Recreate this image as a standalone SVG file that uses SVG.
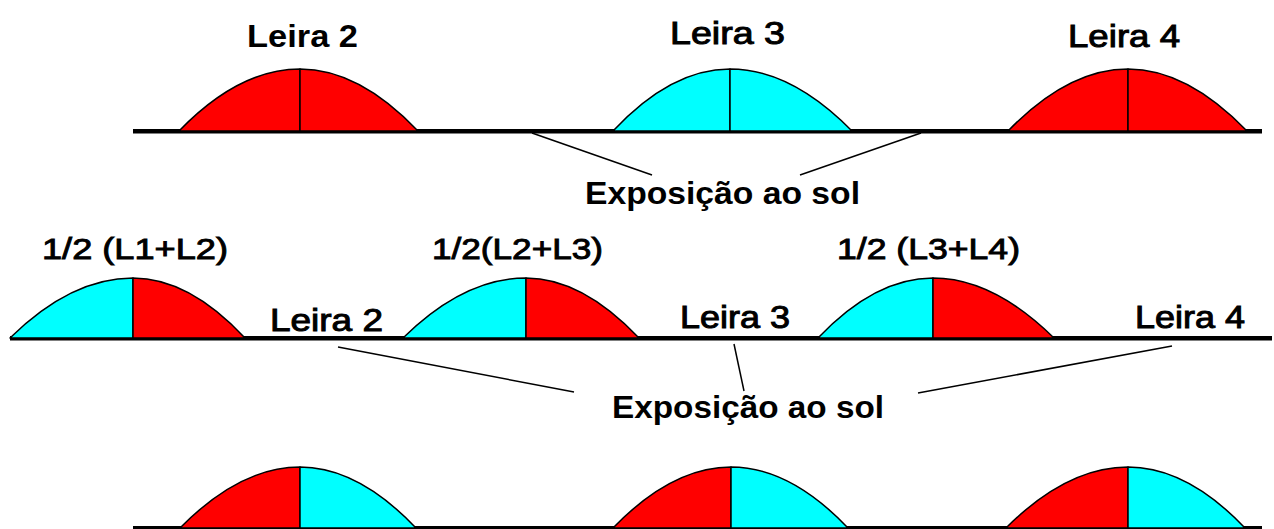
<svg xmlns="http://www.w3.org/2000/svg" width="1274" height="529" viewBox="0 0 1274 529">
<style>
.red{fill:#ff0000;stroke:#000;stroke-width:1.5;stroke-linejoin:round}
.cyan{fill:#00ffff;stroke:#000;stroke-width:1.5;stroke-linejoin:round}
.base{fill:#000}
.con{stroke:#000;stroke-width:1.5;fill:none}
text{font-family:"Liberation Sans",Arial,sans-serif;fill:#000}
.b{font-weight:bold;font-size:31px}
.r{font-size:32px;stroke:#000;stroke-width:1}
.s{font-size:29px;stroke:#000;stroke-width:0.9}
</style>
<rect width="1274" height="529" fill="#fff"/>
<g id="baselines">
<rect class="base" x="133" y="129" width="1129" height="4.5"/>
<rect class="base" x="10" y="336" width="1262" height="4.5"/>
<rect class="base" x="133" y="526" width="1129" height="3"/>
</g>
<g id="row1-leira2">
<path class="red" d="M179,131 Q239,69 300,69 L300,131 Z"/>
<path class="red" d="M300,69 Q359,69 418,131 L300,131 Z"/>
<text class="b" x="247" y="47" textLength="111" lengthAdjust="spacingAndGlyphs">Leira 2</text>
</g>
<g id="row1-leira3">
<path class="cyan" d="M613,131 Q671,69 730,69 L730,131 Z"/>
<path class="cyan" d="M730,69 Q791,69 852,131 L730,131 Z"/>
<text class="r" x="670" y="44" textLength="115" lengthAdjust="spacingAndGlyphs">Leira 3</text>
</g>
<g id="row1-leira4">
<path class="red" d="M1008,131 Q1068,69 1128,69 L1128,131 Z"/>
<path class="red" d="M1128,69 Q1187,69 1247,131 L1128,131 Z"/>
<text class="r" x="1068" y="47" textLength="112" lengthAdjust="spacingAndGlyphs">Leira 4</text>
</g>
<g id="row1-expo">
<text class="b" x="585" y="204" textLength="275" lengthAdjust="spacingAndGlyphs">Exposição ao sol</text>
</g>
<g id="row2-m1">
<path class="cyan" d="M10,338 Q71,278 133,278 L133,338 Z"/>
<path class="red" d="M133,278 Q189,278 245,338 L133,338 Z"/>
<text class="s" x="42" y="259" textLength="186" lengthAdjust="spacingAndGlyphs">1/2 (L1+L2)</text>
</g>
<g id="row2-m2">
<path class="cyan" d="M403,338 Q464,278 526,278 L526,338 Z"/>
<path class="red" d="M526,278 Q582,278 639,338 L526,338 Z"/>
<text class="s" x="432" y="259" textLength="171" lengthAdjust="spacingAndGlyphs">1/2(L2+L3)</text>
</g>
<g id="row2-m3">
<path class="cyan" d="M818,338 Q875,278 933,278 L933,338 Z"/>
<path class="red" d="M933,278 Q993,278 1054,338 L933,338 Z"/>
<text class="s" x="837" y="259" textLength="183" lengthAdjust="spacingAndGlyphs">1/2 (L3+L4)</text>
</g>
<g id="row2-labels">
<text class="r" x="270" y="331" textLength="113" lengthAdjust="spacingAndGlyphs">Leira 2</text>
<text class="r" x="680" y="328" textLength="110" lengthAdjust="spacingAndGlyphs">Leira 3</text>
<text class="r" x="1135" y="328" textLength="110" lengthAdjust="spacingAndGlyphs">Leira 4</text>
<text class="b" x="612" y="418" textLength="272" lengthAdjust="spacingAndGlyphs">Exposição ao sol</text>
</g>
<g id="row3-m1">
<path class="red" d="M180,528 Q240,467 300,467 L300,528 Z"/>
<path class="cyan" d="M300,467 Q358,467 416,528 L300,528 Z"/>
</g>
<g id="row3-m2">
<path class="red" d="M613,528 Q672,467 731,467 L731,528 Z"/>
<path class="cyan" d="M731,467 Q790,467 848,528 L731,528 Z"/>
</g>
<g id="row3-m3">
<path class="red" d="M1006,528 Q1067,467 1128,467 L1128,528 Z"/>
<path class="cyan" d="M1128,467 Q1187,467 1245,528 L1128,528 Z"/>
</g>
<g id="connectors">
<line class="con" x1="532" y1="133" x2="652" y2="175"/>
<line class="con" x1="921" y1="133" x2="800" y2="175"/>
<line class="con" x1="338" y1="347" x2="574" y2="392"/>
<line class="con" x1="734" y1="344" x2="744" y2="391"/>
<line class="con" x1="1172" y1="346" x2="918" y2="393"/>
</g>
</svg>
